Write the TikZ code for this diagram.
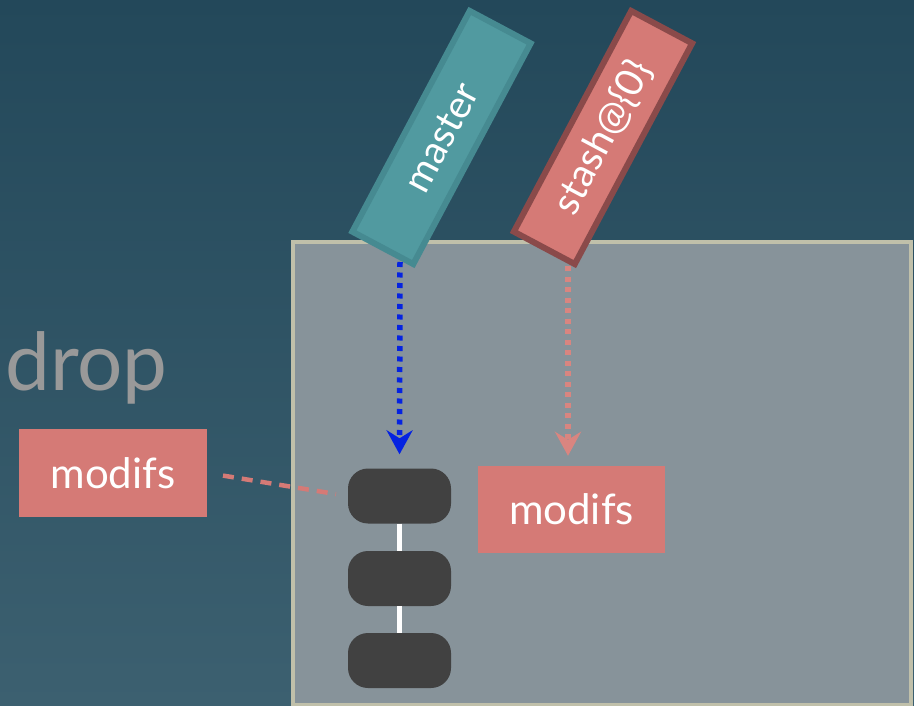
\documentclass[tikz,border=0pt]{standalone}
\usepackage{fontspec}
\setmainfont{Lato}
\usetikzlibrary{arrows.meta}
\definecolor{bgtop}{RGB}{35,72,90}
\definecolor{bgbot}{RGB}{60,96,112}
\definecolor{panel}{RGB}{135,147,154}
\definecolor{panelborder}{RGB}{192,192,170}
\definecolor{pinkfill}{RGB}{213,122,118}
\definecolor{pinkborder}{RGB}{138,74,74}
\definecolor{pinkdot}{RGB}{217,133,128}
\definecolor{tealfill}{RGB}{81,154,160}
\definecolor{tealborder}{RGB}{70,138,145}
\definecolor{commitfill}{RGB}{65,65,65}
\definecolor{arrowblue}{RGB}{5,35,225}
\definecolor{droptext}{RGB}{153,153,153}
\tikzset{
  commit/.style={draw=none, fill=commitfill, rounded corners=20pt, minimum width=103pt, minimum height=55pt, inner sep=0pt},
  modifsbox/.style={fill=pinkfill, minimum width=188pt, minimum height=88pt, inner sep=0pt, text=white, font=\fontsize{42}{46}\selectfont},
  refbox/.style={rotate=62, minimum width=250pt, minimum height=69pt, line width=6pt, inner sep=0pt, text=white, font=\fontsize{39}{42}\selectfont},
  link/.style={draw=white, line width=5pt},
  pointer/.style={line width=5.5pt, dash pattern=on 5pt off 5.5pt, -{Stealth[length=24pt, width=26pt, inset=8pt]}},
}
\begin{document}
\begin{tikzpicture}[x=1pt, y=-1pt]
\useasboundingbox (0,0) rectangle (914,706);
\shade[top color=bgtop, bottom color=bgbot] (0,0) rectangle (914,706);
\node[draw=panelborder, fill=panel, line width=4pt, minimum width=618pt, minimum height=463pt, inner sep=0pt, anchor=north west] (panel) at (291,240) {};
\node[anchor=base west, inner sep=0pt, text=droptext, font=\fontsize{80}{82}\selectfont] (drop) at (5,390) {drop};
\node[modifsbox] (modifsL) at (113,473) {modifs};
\node[modifsbox, minimum width=187pt, minimum height=87pt] (modifsR) at (571.5,509.5) {modifs};
\node[commit] (c1) at (399.5,496) {};
\node[commit] (c2) at (399.5,578.5) {};
\node[commit] (c3) at (399.5,660.5) {};
\draw[link] (c1.south) -- (c2.north);
\draw[link] (c2.south) -- (c3.north);
\draw[pinkfill, line width=4.5pt, dash pattern=on 11pt off 8pt, shorten <=16pt, shorten >=12pt] (modifsL.east) -- (c1.west);
\coordinate (mtail) at (400,262);
\coordinate (stail) at (568,266);
\draw[pointer, arrowblue, shorten >=14pt] (mtail) -- (c1.north);
\draw[pointer, pinkdot, shorten >=10pt] (stail) -- (stail |- modifsR.north);
\node[refbox, draw=tealborder, fill=tealfill] (master) at (441.5,137.5) {master};
\node[refbox, draw=pinkborder, fill=pinkfill] (stash) at (603,137.5) {stash@\{0\}};
\end{tikzpicture}
\end{document}
